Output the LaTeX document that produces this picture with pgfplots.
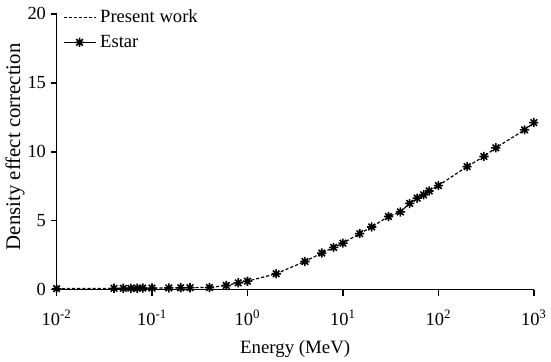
\documentclass[border=0pt]{standalone}
\usepackage{fontspec}
\setmainfont{Liberation Serif}
\usepackage{pgfplots}
\pgfplotsset{compat=1.18}
\pgfdeclareplotmark{estar}{%
  \pgfpathmoveto{\pgfqpoint{-\pgfplotmarksize}{0pt}}\pgfpathlineto{\pgfqpoint{\pgfplotmarksize}{0pt}}%
  \pgfpathmoveto{\pgfqpoint{0pt}{-\pgfplotmarksize}}\pgfpathlineto{\pgfqpoint{0pt}{\pgfplotmarksize}}%
  \pgfpathmoveto{\pgfqpoint{-0.7071\pgfplotmarksize}{-0.7071\pgfplotmarksize}}\pgfpathlineto{\pgfqpoint{0.7071\pgfplotmarksize}{0.7071\pgfplotmarksize}}%
  \pgfpathmoveto{\pgfqpoint{-0.7071\pgfplotmarksize}{0.7071\pgfplotmarksize}}\pgfpathlineto{\pgfqpoint{0.7071\pgfplotmarksize}{-0.7071\pgfplotmarksize}}%
  \pgfusepathqstroke}
\pgfplotstableread{
E d
0.01 0.08
0.04 0.10
0.05 0.10
0.06 0.11
0.07 0.11
0.08 0.12
0.1 0.12
0.15 0.13
0.2 0.14
0.25 0.15
0.4 0.16
0.6 0.31
0.8 0.50
1 0.62
2 1.16
4 2.05
6 2.66
8 3.07
10 3.38
15 4.07
20 4.55
30 5.31
40 5.64
50 6.26
60 6.64
70 6.88
80 7.16
100 7.55
200 8.93
300 9.66
400 10.29
800 11.59
1000 12.12
}\estar
\pgfplotstableread{
E d
0.01 0.08
0.04 0.10
0.05 0.10
0.06 0.11
0.07 0.11
0.08 0.12
0.1 0.12
0.15 0.13
0.2 0.14
0.25 0.15
0.4 0.16
0.6 0.31
0.8 0.50
1 0.62
2 1.16
4 2.05
6 2.66
8 3.07
10 3.38
15 4.07
20 4.55
30 5.31
40 5.64
50 6.26
60 6.64
70 6.88
80 7.16
100 7.55
200 8.93
300 9.66
400 10.29
800 11.59
1000 12.12
}\present
\begin{document}
\begin{tikzpicture}
\begin{axis}[
  scale only axis,
  width=360.75bp, height=208.5bp,
  xmode=log, xmin=0.01, xmax=1000,
  ymin=0, ymax=20,
  ytick={0,5,10,15,20},
  xtick={0.01,0.1,1,10,100,1000},
  xticklabels={10\textsuperscript{-2},10\textsuperscript{-1},10\textsuperscript{0},10\textsuperscript{1},10\textsuperscript{2},10\textsuperscript{3}},
  xminorticks=false,
  axis lines=left,
  axis line style={-, line width=1.1pt},
  tick style={line width=1.1pt, black},
  tick align=outside,
  major tick length=4.5bp,
  /pgf/number format/assume math mode=true,
  tick label style={font=\fontsize{14}{16}\selectfont},
  xticklabel style={anchor=center, yshift=-17bp},
  xlabel={Energy (MeV)},
  ylabel={Density effect correction},
  xlabel style={font=\fontsize{14.3}{17}\selectfont, at={(axis description cs:0.5,0)}, anchor=center, yshift=-44.5bp},
  ylabel style={font=\fontsize{15.8}{18}\selectfont, at={(axis description cs:-0.087,0.518)}, anchor=center},
  legend style={at={(0.01,1.03)}, anchor=north west, draw=none, fill=none,
    font=\fontsize{14.1}{16}\selectfont, row sep=4bp, inner sep=1pt,
    nodes={inner xsep=3bp}},
  legend cell align=left,
  clip=false,
]
\addplot[black, line width=0.9pt, dash pattern=on 2.4pt off 1.5pt,
  legend image code/.code={\draw[black, line width=0.9pt, dash pattern=on 2.4pt off 1.5pt] (0cm,0cm) -- (0.85cm,0cm);}]
  table[x=E,y=d] {\present};
\addlegendentry{Present work}
\addplot[only marks, black, mark=estar, mark size=3.5pt, line width=1.2pt,
  legend image code/.code={\draw[black, line width=1.1pt] (0cm,0cm) -- (0.85cm,0cm); \draw[black, line width=1.2pt] plot[mark=estar, mark size=3.5pt] coordinates {(0.425cm,0cm)};}]
  table[x=E,y=d] {\estar};
\addlegendentry{Estar}
\end{axis}
\path (current axis.south west) ++(-42.75bp,-54bp) (current axis.north east) ++(9.75bp,10.5bp);
\end{tikzpicture}
\end{document}
